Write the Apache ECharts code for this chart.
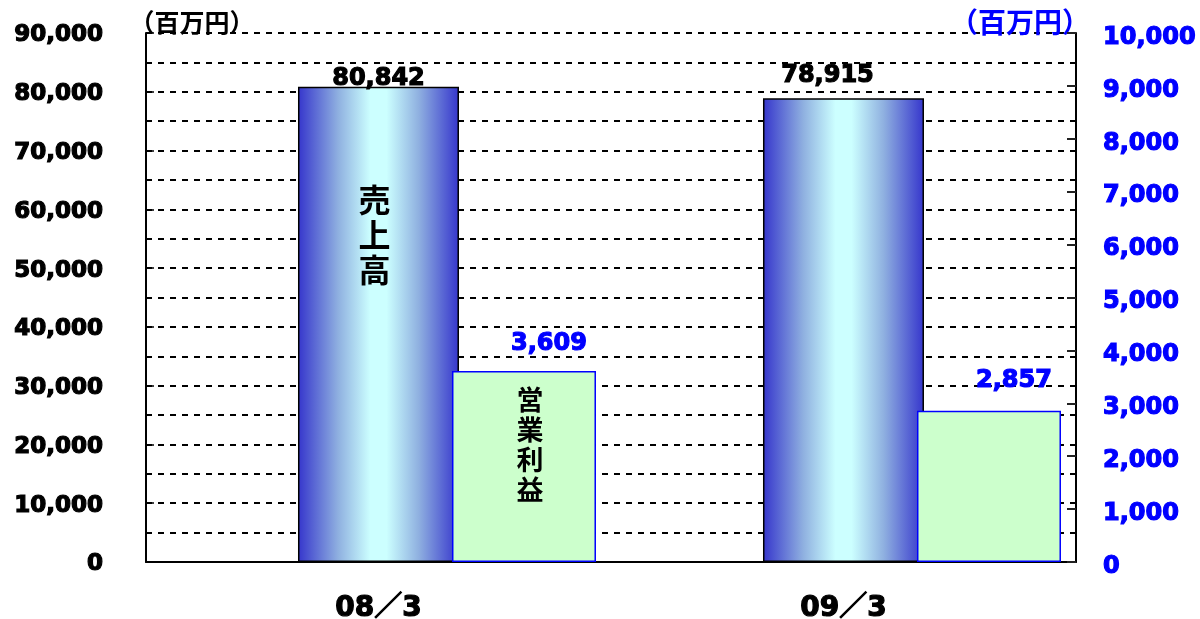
<!DOCTYPE html>
<html>
<head>
<meta charset="utf-8">
<script src="https://cdn.jsdelivr.net/npm/echarts@6/dist/echarts.min.js"></script>
<style>
html,body{margin:0;padding:0;background:#fff;}
#chart{width:1200px;height:619px;}
</style>
</head>
<body>
<div id="chart"></div>
<script>
var categories = ['08／3', '09／3'];
var salesValues = [80842, 78915];      // 売上高 (left axis)
var profitValues = [3609, 2857];       // 営業利益 (right axis)
var leftTicks = [0, 90000, 10000];     // min, max, interval
var rightTicks = [0, 10000, 1000];

var numFont = "'DejaVu Sans', 'Noto Sans CJK JP', sans-serif";
var jpFont = "'Noto Sans CJK JP', sans-serif";

var fmt = function (v) {
    return Number(v).toLocaleString('en-US');
};

var salesGradient = new echarts.graphic.LinearGradient(0, 0, 1, 0, [
    {offset: 0, color: '#3535cc'},
    {offset: 0.25, color: '#8fb0e0'},
    {offset: 0.45, color: '#ccffff'},
    {offset: 0.55, color: '#ccffff'},
    {offset: 0.75, color: '#8fb0e0'},
    {offset: 1, color: '#3535cc'}
]);

var dash = {color: '#000', width: 2, type: [6, 6]};

var option = {
    animation: false,
    grid: {
        left: 146,
        right: 124,
        top: 33,
        bottom: 57,
        outerBoundsMode: 'none'
    },
    xAxis: {
        type: 'category',
        data: categories,
        axisLine: {lineStyle: {color: '#000', width: 2}},
        axisTick: {inside: true, length: 10, lineStyle: {color: '#000', width: 1.5}},
        axisLabel: {
            color: '#000',
            fontFamily: numFont,
            fontWeight: 'bold',
            fontSize: 28,
            textBorderColor: '#000',
            textBorderWidth: 1.2,
            margin: 33
        }
    },
    yAxis: [
        {
            type: 'value',
            min: leftTicks[0],
            max: leftTicks[1],
            interval: leftTicks[2],
            name: '（百万円）',
            nameLocation: 'end',
            nameGap: -2,
            nameTextStyle: {
                color: '#000',
                fontFamily: jpFont,
                fontWeight: 'bold',
                fontSize: 25,
                padding: [0, 0, 0, 92]
            },
            axisLine: {show: true, lineStyle: {color: '#000', width: 2}},
            axisTick: {show: true, inside: true, length: 8, lineStyle: {color: '#000', width: 1.5}},
            axisLabel: {
                color: '#000',
                fontFamily: numFont,
                fontWeight: 'bold',
                fontSize: 23,
                textBorderColor: '#000',
                textBorderWidth: 1.2,
                verticalAlign: 'top',
                lineHeight: 5,
                margin: 43,
                formatter: fmt
            },
            splitLine: {show: true, lineStyle: dash},
            minorTick: {show: false, splitNumber: 2},
            minorSplitLine: {show: true, lineStyle: dash}
        },
        {
            type: 'value',
            min: rightTicks[0],
            max: rightTicks[1],
            interval: rightTicks[2],
            name: '（百万円）',
            nameLocation: 'end',
            nameGap: -3,
            nameTextStyle: {
                color: '#0000ff',
                fontFamily: jpFont,
                fontWeight: 'bold',
                fontSize: 28,
                padding: [0, 112, 0, 0]
            },
            axisLine: {show: true, lineStyle: {color: '#000', width: 2}},
            axisTick: {show: true, inside: true, length: 9, lineStyle: {color: '#222', width: 2}},
            axisLabel: {
                color: '#0000ff',
                fontFamily: numFont,
                fontWeight: 'bold',
                fontSize: 24,
                textBorderColor: '#0000ff',
                textBorderWidth: 1.2,
                verticalAlign: 'top',
                lineHeight: 9,
                margin: 27,
                formatter: fmt
            },
            splitLine: {show: false}
        }
    ],
    series: [
        {
            // spacer so the sales bar sits centred on its category
            name: 'spacer',
            type: 'bar',
            yAxisIndex: 0,
            barWidth: 143.2,
            barGap: '-4.348%',
            silent: true,
            itemStyle: {color: 'rgba(0,0,0,0)'},
            data: ['-', '-']
        },
        {
            name: '売上高',
            type: 'bar',
            yAxisIndex: 0,
            barWidth: 161,
            barGap: '-4.348%',
            itemStyle: {color: salesGradient, borderColor: '#000', borderWidth: 1.5},
            label: {
                show: true,
                position: 'top',
                distance: -3,
                lineHeight: 22,
                color: '#000',
                fontFamily: numFont,
                fontWeight: 'bold',
                fontSize: 24,
                textBorderColor: '#000',
                textBorderWidth: 1.2,
                formatter: function (p) { return fmt(p.value); }
            },
            data: [
                salesValues[0],
                {value: salesValues[1], label: {distance: 11, offset: [-16, 0]}}
            ],
            markPoint: {
                symbol: 'circle',
                symbolSize: 1,
                silent: true,
                itemStyle: {color: 'rgba(0,0,0,0)'},
                label: {
                    show: true,
                    position: 'inside',
                    color: '#000',
                    fontFamily: jpFont,
                    fontWeight: 'bold',
                    fontSize: 32,
                    lineHeight: 35,
                    offset: [-4, 0],
                    formatter: '売\n上\n高'
                },
                data: [{coord: [categories[0], 55600]}]
            }
        },
        {
            name: '営業利益',
            type: 'bar',
            yAxisIndex: 1,
            barWidth: 144,
            barGap: '-4.348%',
            itemStyle: {color: '#ccffcc', borderColor: '#0000ff', borderWidth: 1.5},
            label: {
                show: true,
                position: 'top',
                distance: 16,
                lineHeight: 22,
                offset: [25, 0],
                color: '#0000ff',
                fontFamily: numFont,
                fontWeight: 'bold',
                fontSize: 24,
                textBorderColor: '#0000ff',
                textBorderWidth: 1.2,
                formatter: function (p) { return fmt(p.value); }
            },
            data: [
                profitValues[0],
                {value: profitValues[1], label: {distance: 19}}
            ],
            markPoint: {
                symbol: 'circle',
                symbolSize: 1,
                silent: true,
                itemStyle: {color: 'rgba(0,0,0,0)'},
                label: {
                    show: true,
                    position: 'inside',
                    color: '#000',
                    fontFamily: jpFont,
                    fontWeight: 'bold',
                    fontSize: 27,
                    lineHeight: 30,
                    offset: [6, 0],
                    formatter: '営\n業\n利\n益'
                },
                data: [{coord: [categories[0], 2210]}]
            }
        }
    ]
};

var chart = echarts.init(document.getElementById('chart'));
chart.setOption(option);
window.addEventListener('resize', chart.resize);
</script>
</body>
</html>
